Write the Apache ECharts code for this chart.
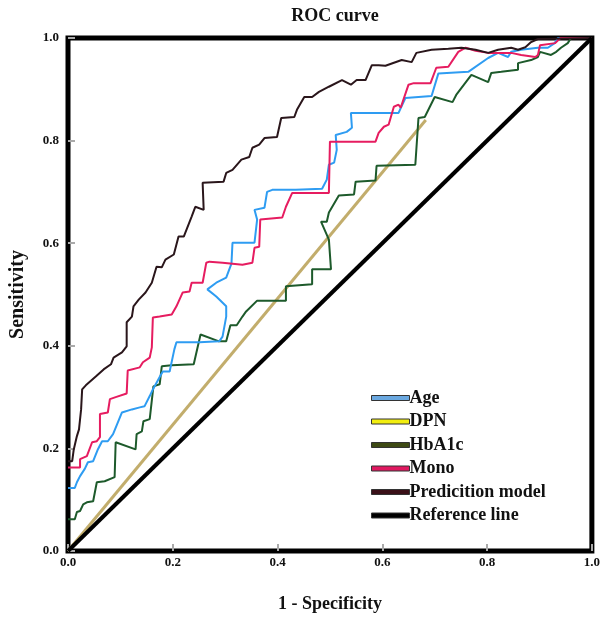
<!DOCTYPE html>
<html><head><meta charset="utf-8">
<script src="https://cdn.jsdelivr.net/npm/echarts@6/dist/echarts.min.js"></script>
<style>html,body{margin:0;padding:0;background:#fff}#c{width:603px;height:618px}</style>
</head><body><div id="c"></div>
<script>
// Tick labels
const tickValues = [0, 0.2, 0.4, 0.6, 0.8, 1.0];
const seriesNames = ['Age', 'DPN', 'HbA1c', 'Mono', 'Predicition model', 'Reference line'];

// ROC points [1 - specificity, sensitivity]
const ageData = [[0,0.123],[0.013,0.123],[0.017,0.134],[0.023,0.146],[0.032,0.160],[0.038,0.173],[0.048,0.175],[0.057,0.198],[0.065,0.214],[0.076,0.214],[0.086,0.228],[0.103,0.270],[0.122,0.276],[0.137,0.280],[0.146,0.282],[0.156,0.302],[0.162,0.315],[0.175,0.339],[0.181,0.350],[0.194,0.350],[0.203,0.393],[0.207,0.407],[0.251,0.407],[0.289,0.409],[0.295,0.418],[0.302,0.457],[0.302,0.477],[0.283,0.496],[0.266,0.510],[0.283,0.523],[0.302,0.533],[0.312,0.560],[0.314,0.601],[0.356,0.601],[0.361,0.646],[0.356,0.665],[0.375,0.669],[0.380,0.700],[0.390,0.704],[0.435,0.704],[0.485,0.706],[0.494,0.724],[0.498,0.753],[0.508,0.757],[0.513,0.782],[0.511,0.811],[0.532,0.817],[0.542,0.825],[0.540,0.854],[0.631,0.854],[0.644,0.883],[0.694,0.887],[0.707,0.931],[0.764,0.934],[0.802,0.961],[0.821,0.971],[0.840,0.963],[0.846,0.973],[0.865,0.977],[0.897,0.981],[0.916,0.981],[0.929,0.990],[0.935,1.0],[1,1]];
const dpnData = [[0,0],[0.683,0.840]];
const hba1cData = [[0,0.062],[0.013,0.062],[0.017,0.076],[0.023,0.078],[0.029,0.091],[0.036,0.095],[0.048,0.097],[0.055,0.134],[0.070,0.136],[0.089,0.144],[0.091,0.212],[0.129,0.198],[0.131,0.228],[0.141,0.233],[0.144,0.253],[0.156,0.257],[0.163,0.321],[0.175,0.325],[0.179,0.360],[0.198,0.362],[0.240,0.364],[0.253,0.422],[0.287,0.409],[0.302,0.409],[0.310,0.440],[0.322,0.440],[0.333,0.457],[0.340,0.467],[0.361,0.488],[0.416,0.488],[0.416,0.516],[0.466,0.520],[0.466,0.549],[0.502,0.549],[0.498,0.607],[0.483,0.642],[0.494,0.642],[0.498,0.660],[0.517,0.693],[0.546,0.695],[0.549,0.720],[0.587,0.722],[0.589,0.751],[0.663,0.753],[0.669,0.844],[0.681,0.846],[0.700,0.885],[0.734,0.875],[0.741,0.889],[0.770,0.928],[0.802,0.914],[0.808,0.932],[0.827,0.934],[0.859,0.938],[0.859,0.951],[0.884,0.957],[0.897,0.963],[0.901,0.973],[0.922,0.967],[0.932,0.973],[0.941,0.981],[0.954,0.990],[0.960,1.0],[1,1]];
const monoData = [[0,0.163],[0.023,0.163],[0.023,0.179],[0.036,0.185],[0.046,0.212],[0.055,0.214],[0.061,0.222],[0.061,0.267],[0.076,0.270],[0.080,0.296],[0.091,0.300],[0.112,0.307],[0.114,0.352],[0.137,0.358],[0.143,0.368],[0.156,0.377],[0.160,0.397],[0.162,0.455],[0.175,0.457],[0.198,0.461],[0.207,0.477],[0.219,0.504],[0.232,0.506],[0.236,0.523],[0.257,0.523],[0.264,0.562],[0.270,0.564],[0.295,0.562],[0.333,0.558],[0.352,0.562],[0.356,0.591],[0.365,0.593],[0.367,0.646],[0.409,0.650],[0.416,0.671],[0.428,0.698],[0.498,0.698],[0.500,0.798],[0.587,0.798],[0.593,0.815],[0.603,0.827],[0.612,0.831],[0.622,0.866],[0.631,0.870],[0.635,0.864],[0.650,0.909],[0.660,0.912],[0.692,0.912],[0.703,0.942],[0.726,0.944],[0.745,0.973],[0.759,0.981],[0.778,0.975],[0.802,0.971],[0.846,0.971],[0.865,0.967],[0.892,0.963],[0.897,0.967],[0.901,0.986],[0.930,0.990],[0.940,1.0],[1,1]];
const predData = [[0,0.175],[0.008,0.175],[0.011,0.198],[0.017,0.224],[0.021,0.237],[0.025,0.276],[0.027,0.315],[0.034,0.323],[0.053,0.340],[0.068,0.354],[0.082,0.364],[0.087,0.377],[0.103,0.387],[0.112,0.399],[0.112,0.446],[0.122,0.457],[0.125,0.477],[0.135,0.490],[0.148,0.504],[0.160,0.523],[0.169,0.554],[0.179,0.553],[0.186,0.568],[0.202,0.578],[0.211,0.613],[0.221,0.613],[0.236,0.652],[0.243,0.671],[0.259,0.665],[0.257,0.718],[0.297,0.720],[0.302,0.737],[0.314,0.743],[0.331,0.763],[0.346,0.768],[0.352,0.786],[0.365,0.792],[0.375,0.805],[0.399,0.807],[0.407,0.844],[0.432,0.846],[0.437,0.860],[0.451,0.885],[0.466,0.885],[0.479,0.895],[0.498,0.905],[0.523,0.918],[0.540,0.909],[0.551,0.918],[0.568,0.918],[0.580,0.947],[0.593,0.947],[0.606,0.946],[0.637,0.957],[0.656,0.953],[0.665,0.971],[0.694,0.977],[0.726,0.979],[0.751,0.981],[0.778,0.977],[0.802,0.971],[0.821,0.977],[0.846,0.981],[0.859,0.977],[0.873,0.982],[0.884,0.992],[0.897,0.998],[1,1]];
const refData = [[0,0],[1,1]];

const colors = {
  'Age': '#2e9cf2', 'DPN': '#c2ad6c', 'HbA1c': '#1d5a2b', 'Mono': '#e61c60',
  'Predicition model': '#2a161b', 'Reference line': '#000000'
};
const legendColors = {
  'Age': '#6aa8e0', 'DPN': '#f2ee10', 'HbA1c': '#3e4a14', 'Mono': '#e01860',
  'Predicition model': '#3a1018', 'Reference line': '#000000'
};
const serif = '"Liberation Serif", "Times New Roman", serif';

function mk(name, data, width, z) {
  return {
    name: name, type: 'line', data: data, symbol: 'none', z: z,
    lineStyle: { color: colors[name], width: width },
    itemStyle: { color: legendColors[name], borderColor: '#333', borderWidth: 1 },
    animation: false
  };
}

const chart = echarts.init(document.getElementById('c'), null, { renderer: 'canvas' });
chart.setOption({
  backgroundColor: '#fff',
  title: {
    text: 'ROC curve', left: 330, top: 2, textAlign: 'center',
    textStyle: { fontFamily: serif, fontWeight: 'bold', fontSize: 18, color: '#111' }
  },
  legend: {
    orient: 'vertical', left: 371, top: 389, itemGap: 5.5, padding: 0,
    itemWidth: 38, itemHeight: 5, icon: 'rect',
    data: seriesNames,
    textStyle: { fontFamily: serif, fontWeight: 'bold', fontSize: 18, color: '#111', padding: [0, 0, 0, -5], lineHeight: 18 },
    itemStyle: { borderColor: '#333', borderWidth: 1 }
  },
  grid: {
    left: 68, right: 9, top: 38, bottom: 65,
    show: true, borderColor: '#000', borderWidth: 5, backgroundColor: '#fff'
  },
  xAxis: {
    type: 'value', min: 0, max: 1, interval: 0.2,
    name: '1 - Specificity', nameLocation: 'middle', nameGap: 44,
    nameTextStyle: { fontFamily: serif, fontWeight: 'bold', fontSize: 18, color: '#111' },
    axisLine: { show: false },
    axisTick: { show: true, inside: true, length: 7, lineStyle: { color: '#aaa', width: 2 } },
    axisLabel: { fontFamily: serif, fontWeight: 'bold', fontSize: 13, color: '#111', margin: 5,
      formatter: v => tickValues.includes(Math.round(v*10)/10) ? v.toFixed(1) : '' },
    splitLine: { show: false }
  },
  yAxis: {
    type: 'value', min: 0, max: 1, interval: 0.2,
    name: 'Sensitivity', nameLocation: 'middle', nameGap: 40,
    nameTextStyle: { fontFamily: serif, fontWeight: 'bold', fontSize: 20, color: '#111' },
    axisLine: { show: false },
    axisTick: { show: true, inside: true, length: 7, lineStyle: { color: '#aaa', width: 2 } },
    axisLabel: { fontFamily: serif, fontWeight: 'bold', fontSize: 13, color: '#111', margin: 9,
      formatter: v => v.toFixed(1) },
    splitLine: { show: false }
  },
  series: [
    mk('DPN', dpnData, 3, 2),
    mk('HbA1c', hba1cData, 2, 3),
    mk('Age', ageData, 2, 4),
    mk('Mono', monoData, 2, 5),
    mk('Predicition model', predData, 2, 6),
    mk('Reference line', refData, 4, 7)
  ]
});
</script></body></html>
